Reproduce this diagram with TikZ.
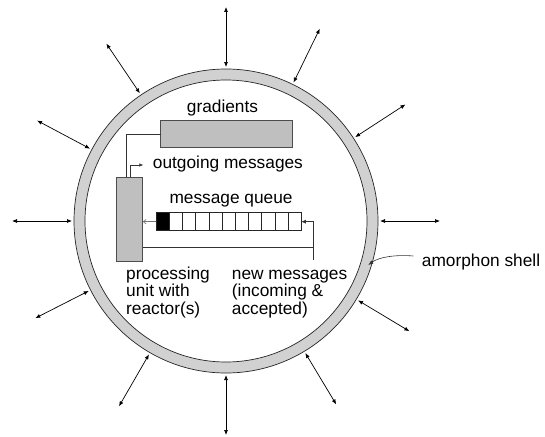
\documentclass[tikz,border=0pt]{standalone}
\usepackage{fontspec}
\setmainfont{Liberation Sans}
\usetikzlibrary{arrows.meta,calc}

\begin{document}
\begin{tikzpicture}[x=1pt,y=-1pt,
  lbl/.style={font=\fontsize{17.3}{17}\selectfont, inner sep=0pt, anchor=base west},
  wire/.style={draw=black!80, line width=0.6pt},
  radial/.style={draw=black, line width=0.7pt, {Latex[length=5pt,width=4pt]}-{Latex[length=5pt,width=4pt]}},
  panel/.style={draw=black!70, fill=black!25, line width=0.7pt, inner sep=0pt, outer sep=0pt},
  cell/.style={draw=black!85, fill=white, line width=0.6pt, minimum width=13.21pt,
               minimum height=18pt, inner sep=0pt, outer sep=0pt},
]
\useasboundingbox (0,0) rectangle (545,436);
\fill[white] (0,0) rectangle (545,436);

% shell
\coordinate (c) at (226,221);
\fill[black!18, even odd rule] (c) circle[radius=152pt] (c) circle[radius=141pt];
\draw[black!85, line width=0.7pt] (c) circle[radius=152pt];
\draw[black!85, line width=0.7pt] (c) circle[radius=141pt];

% exchange with the neighbourhood
\foreach \a [count=\i] in {90,64,33,0,-31,-59,-90,-120,-153,180,152,124}{
  \coordinate (in\i) at ([shift={(\a:154pt)}]c);
  \coordinate (out\i) at ([shift={(\a:214pt)}]c);
  \draw[radial] (in\i) -- (out\i);
}

% gradients store and processing unit
\node[panel, minimum width=132pt, minimum height=26.6pt, anchor=north west] (grad) at (160.7,120.7) {};
\node[panel, minimum width=26pt, minimum height=83.7pt, anchor=north west] (proc) at (116.7,177.3) {};

% message queue
\foreach \k in {0,...,10}{
  \node[cell, anchor=north west] (q\k) at (156+\k*13.21,212.7) {};
}
\fill[black] (q0.north west) rectangle (q0.south east);
\draw[black!85, line width=0.6pt] (q0.north west) rectangle (q10.south east);

% labels
\node[lbl] (gradlbl) at (186.7,112.7) {gradients};
\node[lbl] (outlbl) at (152.7,168.3) {outgoing messages};
\node[lbl] (queuelbl) at (169.3,203.3) {message queue};
\node[lbl] (proclbl) at (126,279.3)
  {\begin{tabular}[t]{@{}l@{}}processing\\unit with\\reactor(s)\end{tabular}};
\node[lbl] (newlbl) at (231.7,279.3)
  {\begin{tabular}[t]{@{}l@{}}new messages\\(incoming \&\\accepted)\end{tabular}};
\node[lbl] (shelllbl) at (421.7,266) {amorphon shell};

% connectors
\draw[wire] (grad.west) -| ($(proc.north west)+(9.3,0)$);
\coordinate (outtip) at (143.3,165);
\draw[wire, -{Latex[length=4pt,width=3.5pt]}] ($(proc.north west)+(14,0)$) |- (outtip);
\draw[draw=black!55, line width=0.6pt, -{Straight Barb[length=3pt,width=4.5pt]}]
  (q0.west) -- (proc.east |- q0.west);
\coordinate (newin) at (313.3,260);
\coordinate (newjoin) at (313.3,247);
\draw[wire, -{Latex[length=4.5pt,width=4pt]}] (newin) |- (q10.east);
\draw[wire] (newjoin) -- (proc.east |- newjoin);

% shell leader
\coordinate (leadstart) at (413.3,256);
\coordinate (leadend) at (368.3,265);
\draw[wire, -{Latex[length=5pt,width=4pt]}] (leadstart) .. controls (396,254.5) and (379,257) .. (leadend);
\end{tikzpicture}
\end{document}
